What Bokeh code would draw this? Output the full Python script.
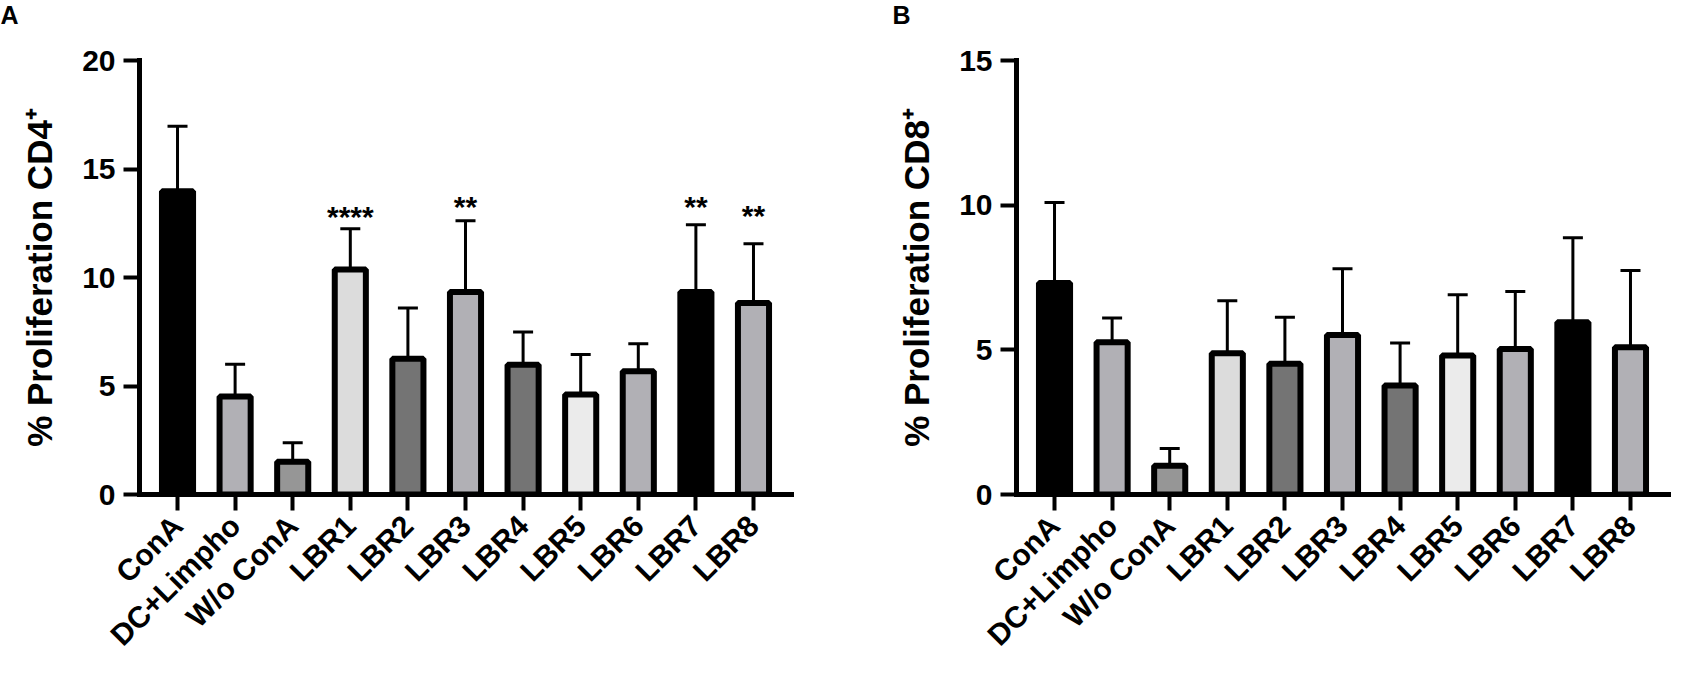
import math
from bokeh.plotting import figure
from bokeh.models import Range1d, FixedTicker, Whisker, TeeHead, ColumnDataSource
from bokeh.layouts import row, column
from bokeh.embed import file_html
from bokeh.resources import INLINE
from bokeh.core.properties import value

# ---------------- data ----------------
categories = ["ConA", "DC+Limpho", "W/o ConA", "LBR1", "LBR2", "LBR3",
              "LBR4", "LBR5", "LBR6", "LBR7", "LBR8"]

cd4_mean = [13.97, 4.52, 1.51, 10.37, 6.26, 9.33, 5.98, 4.61, 5.68, 9.33, 8.83]
cd4_upper = [16.97, 6.0, 2.39, 12.25, 8.6, 12.62, 7.49, 6.45, 6.95, 12.43, 11.55]

cd8_mean = [7.31, 5.26, 0.99, 4.88, 4.52, 5.51, 3.77, 4.80, 5.03, 5.95, 5.09]
cd8_upper = [10.09, 6.1, 1.59, 6.7, 6.13, 7.8, 5.24, 6.9, 7.02, 8.87, 7.74]

bar_colors = ["#000000", "#b1b0b5", "#969696", "#dcdcdc", "#747474", "#b1b0b5",
              "#747474", "#ebebeb", "#b1b0b5", "#000000", "#b1b0b5"]

cd4_sig_idx = [3, 5, 9, 10]
cd4_sig_y = [13.56, 14.03, 14.03, 13.6]
cd4_sig_text = ["****", "**", "**", "**"]

cd4_ticks = [0, 5, 10, 15, 20]
cd8_ticks = [0, 5, 10, 15]

panel_letters = ["A", "B"]

FONT = "Liberation Sans"
HEADER_H = 30
FRAME_H = 434
TOTAL_H = 669 - HEADER_H
TOP = 60 - HEADER_H


def make_panel(means, uppers, ymax, yticks, ylabel, width, left, right,
               sig_idx=None, sig_y=None, sig_text=None):
    p = figure(width=width, height=TOTAL_H, output_backend="svg", toolbar_location=None,
               x_range=Range1d(-0.66, len(categories) - 1 + 0.66),
               y_range=Range1d(0, ymax),
               min_border_left=left, min_border_right=right,
               min_border_top=TOP, min_border_bottom=TOTAL_H - TOP - FRAME_H)
    p.outline_line_color = None
    p.grid.visible = False
    p.background_fill_color = "white"

    xs = list(range(len(categories)))
    src = ColumnDataSource(dict(x=xs, top=means, upper=uppers, color=bar_colors))
    p.vbar(x="x", top="top", width=0.54, bottom=0, source=src,
           fill_color="color", line_color="black", line_width=6)

    wh = Whisker(source=src, base="x", lower="top", upper="upper",
                 line_color="black", line_width=3,
                 upper_head=TeeHead(size=20, line_width=3, line_color="black"),
                 lower_head=None)
    p.add_layout(wh)

    if sig_idx:
        ssrc = ColumnDataSource(dict(x=sig_idx, y=sig_y, t=sig_text))
        p.text(x="x", y="y", text="t", source=ssrc, text_align="center",
               text_baseline="alphabetic", y_offset=16,
               text_font=value(FONT), text_font_style="bold",
               text_font_size="30px", text_color="black")

    # x axis
    xa = p.xaxis[0]
    xa.ticker = FixedTicker(ticks=xs)
    xa.major_label_overrides = {i: c for i, c in enumerate(categories)}
    xa.major_label_orientation = math.pi / 4
    xa.major_label_text_font = FONT
    xa.major_label_text_font_style = "bold"
    xa.major_label_text_font_size = "30px"
    xa.major_label_text_color = "black"
    xa.major_label_standoff = 10
    xa.axis_line_width = 5
    xa.axis_line_cap = "square"
    xa.major_tick_line_width = 4
    xa.major_tick_out = 16
    xa.major_tick_in = 0
    xa.minor_tick_line_color = None

    # y axis
    ya = p.yaxis[0]
    ya.ticker = FixedTicker(ticks=yticks)
    ya.major_label_text_font = FONT
    ya.major_label_text_font_style = "bold"
    ya.major_label_text_font_size = "30px"
    ya.major_label_text_color = "black"
    ya.major_label_standoff = 8
    ya.axis_line_width = 5
    ya.axis_line_cap = "square"
    ya.major_tick_line_width = 4
    ya.major_tick_out = 16
    ya.major_tick_in = 0
    ya.minor_tick_line_color = None
    ya.axis_label = ylabel
    ya.axis_label_text_font = FONT
    ya.axis_label_text_font_style = "bold"
    ya.axis_label_text_font_size = "35px"
    ya.axis_label_text_color = "black"
    ya.axis_label_standoff = 20
    return p


# header strip holding the panel letters
header = figure(width=1671, height=HEADER_H, output_backend="svg", toolbar_location=None,
                x_range=Range1d(0, 1671), y_range=Range1d(0, HEADER_H),
                min_border=0)
header.axis.visible = False
header.grid.visible = False
header.outline_line_color = None
header.text(x=[0, 892], y=[HEADER_H, HEADER_H], text=panel_letters,
            text_baseline="top", text_align="left",
            text_font=value(FONT), text_font_style="bold",
            text_font_size="25px", text_color="black")

pA = make_panel(cd4_mean, cd4_upper, 20, cd4_ticks, "% Proliferation CD4\u207a",
                882, 139, 91, cd4_sig_idx, cd4_sig_y, cd4_sig_text)
pB = make_panel(cd8_mean, cd8_upper, 15, cd8_ticks, "% Proliferation CD8\u207a",
                789, 134, 3)

layout = column(header, row(pA, pB))
open("out.html", "w").write(file_html(layout, INLINE))
